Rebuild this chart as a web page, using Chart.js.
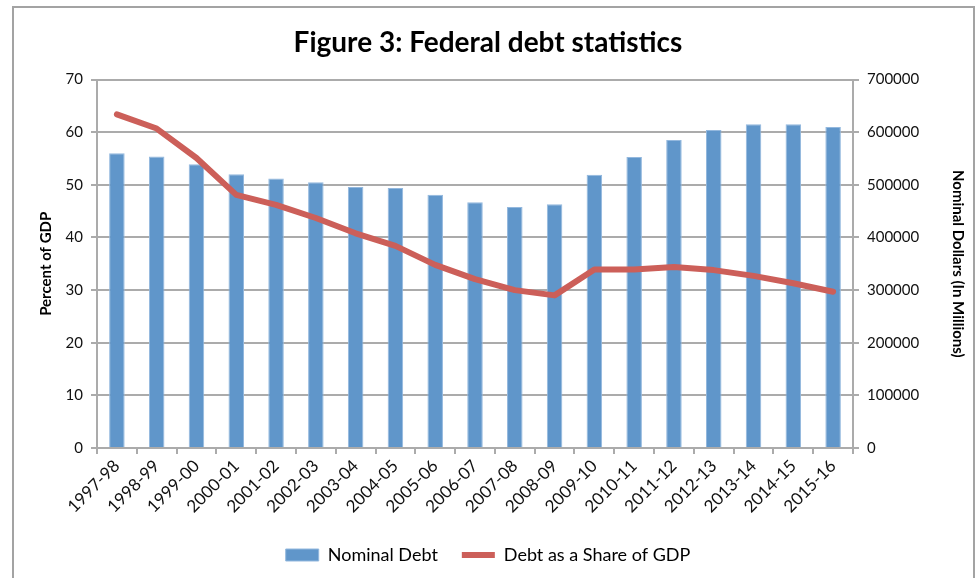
<!DOCTYPE html>
<html>
<head>
<meta charset="utf-8">
<script src="https://cdn.jsdelivr.net/npm/chart.js@4.4.1/dist/chart.umd.min.js"></script>
<style>
  html, body { margin: 0; padding: 0; background: #fff; overflow: hidden; }
  #frame {
    position: absolute; left: 12px; top: 6px; width: 963px; height: 620px;
    border: 2px solid #a3a3a3; box-sizing: border-box;
  }
  #debtChart { position: absolute; left: 0; top: 0; }
</style>
</head>
<body>
<div id="frame"></div>
<canvas id="debtChart" width="976" height="578"></canvas>
<script>
const years = [
  "1997-98", "1998-99", "1999-00", "2000-01", "2001-02", "2002-03", "2003-04",
  "2004-05", "2005-06", "2006-07", "2007-08", "2008-09", "2009-10", "2010-11",
  "2011-12", "2012-13", "2013-14", "2014-15", "2015-16",
];

// nominal debt, $ millions (right axis)
const nominalDebt = [
  560000, 554000, 539000, 520000, 512000, 505000, 496000, 494000, 481000, 467000,
  458000, 463000, 519000, 553000, 585000, 604000, 615000, 615000, 610000,
];

// debt as % of GDP (left axis)
const debtShareGDP = [
  63.4, 60.7, 55.1, 48.1, 46.2, 43.7, 40.8, 38.4, 34.8, 32.1,
  30.0, 29.0, 33.9, 33.9, 34.4, 33.8, 32.7, 31.3, 29.7,
];

const fontName = "Lato";
const gridGray = "#ababab";

let chart_Data = {
  labels: years,
  datasets: [
    {
      type: "bar",
      label: "Nominal Debt",
      data: nominalDebt,
      yAxisID: "y1",
      backgroundColor: "#6096ca",
      borderColor: "#93b8de",
      borderWidth: 1,
      barPercentage: 0.39,
      categoryPercentage: 1,
      pointStyle: "rect",
      order: 1,
    },
    {
      type: "line",
      label: "Debt as a Share of GDP",
      data: debtShareGDP,
      yAxisID: "y",
      borderColor: "#cc5f59",
      backgroundColor: "#cc5f59",
      borderWidth: 6,
      pointRadius: 0,
      borderCapStyle: "round",
      borderJoinStyle: "round",
      tension: 0,
      pointStyle: "line",
      order: 0,
    },
  ],
};

let options = {
  responsive: false,
  animation: false,
  layout: { padding: { left: 0, right: 0, top: 0, bottom: 4 } },
  plugins: {
    title: {
      display: true,
      text: "Figure 3: Federal debt statistics",
      color: "#000",
      font: { family: fontName, size: 28, weight: "bold" },
      padding: { top: 26, bottom: 20 },
    },
    legend: {
      position: "bottom",
      labels: {
        usePointStyle: true,
        pointStyleWidth: 33,
        boxHeight: 12,
        color: "#000",
        padding: 24,
        font: { family: fontName, size: 18 },
        sort: (a, b) => a.datasetIndex - b.datasetIndex,
      },
    },
    tooltip: { enabled: false },
  },
  scales: {
    x: {
      offset: true,
      grid: {
        offset: true,
        drawOnChartArea: false,
        color: gridGray,
        lineWidth: 2,
        tickLength: 6,
      },
      border: { color: gridGray, width: 2 },
      ticks: {
        color: "#111",
        minRotation: 45,
        maxRotation: 45,
        padding: 2,
        font: { family: fontName, size: 17 },
      },
      afterFit: (scale) => { scale.height = 74; },
    },
    y: {
      position: "left",
      min: 0,
      max: 70,
      ticks: {
        stepSize: 10,
        color: "#111",
        padding: 8,
        font: { family: fontName, size: 15 },
      },
      grid: { color: gridGray, lineWidth: 2, tickLength: 6 },
      border: { color: gridGray, width: 2 },
      title: {
        display: true,
        text: "Percent of GDP",
        color: "#000",
        font: { family: fontName, size: 15, weight: "bold" },
        padding: { top: 37, bottom: 0 },
      },
      afterFit: (scale) => { scale.width = 97; },
    },
    y1: {
      position: "right",
      min: 0,
      max: 700000,
      ticks: {
        stepSize: 100000,
        color: "#111",
        padding: 8,
        font: { family: fontName, size: 15 },
        callback: (value) => String(value), // no thousands separators
      },
      grid: { drawOnChartArea: false, color: gridGray, lineWidth: 2, tickLength: 6 },
      border: { color: gridGray, width: 2 },
      title: {
        display: true,
        text: "Nominal Dollars (In Millions)",
        color: "#000",
        font: { family: fontName, size: 15, weight: "bold" },
        padding: { top: 9, bottom: 0 },
      },
      afterFit: (scale) => { scale.width = 123; },
    },
  },
};

var ctx = document.getElementById("debtChart").getContext("2d");
var myChart = new Chart(ctx, {
  data: chart_Data,
  options: options,
});
</script>
</body>
</html>
